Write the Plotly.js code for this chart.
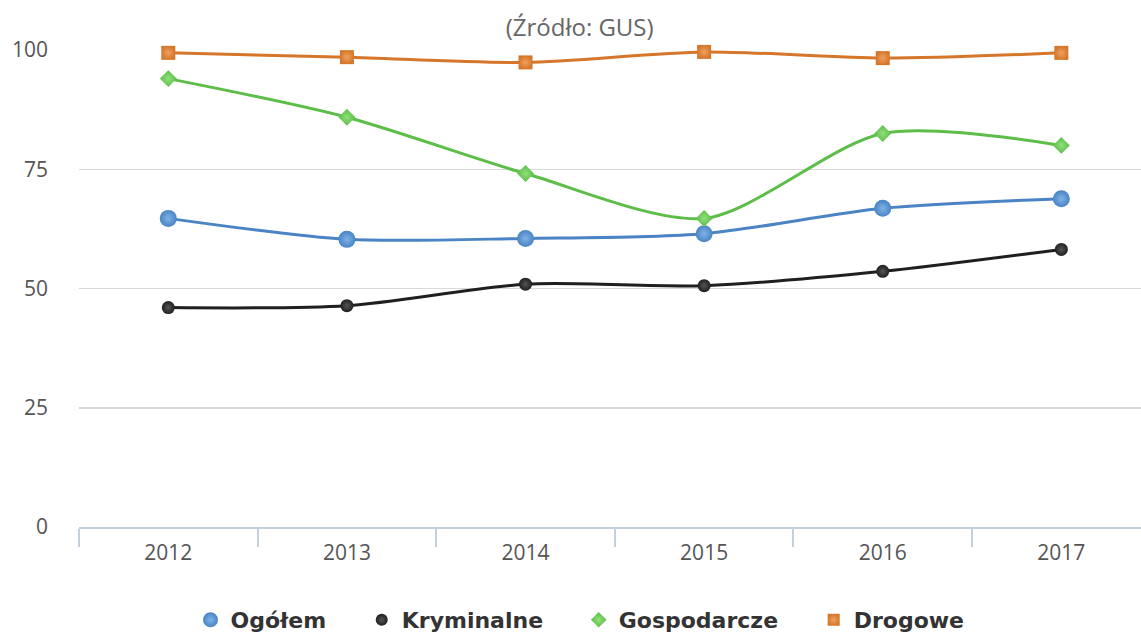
<!DOCTYPE html>
<html>
<head>
<meta charset="utf-8">
<script src="https://cdn.plot.ly/plotly-3.0.1.min.js"></script>
<style>html,body{margin:0;padding:0;background:#fff;}#chart{width:1141px;height:633px;}</style>
</head>
<body>
<div id="chart"></div>
<script>
const years = ['2012', '2013', '2014', '2015', '2016', '2017'];
const ogolem = [64.7, 60.3, 60.5, 61.5, 66.8, 68.8];
const kryminalne = [46.0, 46.4, 50.9, 50.6, 53.6, 58.2];
const gospodarcze = [94.0, 85.9, 74.1, 64.7, 82.5, 80.0];
const drogowe = [99.4, 98.5, 97.4, 99.6, 98.3, 99.4];
const seriesNames = ['Ogółem', 'Kryminalne', 'Gospodarcze', 'Drogowe'];
const yTicks = [0, 25, 50, 75, 100];

const styles = [
  {color: '#4a84c4', light: '#7fb2e6', symbol: 'circle', size: 17, lsize: 15},
  {color: '#1f1f1f', light: '#555555', symbol: 'circle', size: 13, lsize: 12},
  {color: '#5cbd48', light: '#8fe07a', symbol: 'diamond', size: 13, lsize: 12},
  {color: '#d5762a', light: '#f0a060', symbol: 'square', size: 14, lsize: 12}
];
const values = [ogolem, kryminalne, gospodarcze, drogowe];
const pad = ['\u00a0\u00a0\u00a0\u00a0', '\u00a0\u00a0\u00a0\u00a0', '\u00a0\u00a0\u00a0\u00a0', ''];

const traces = [];
values.forEach((v, i) => {
  const s = styles[i];
  traces.push({
    type: 'scatter', mode: 'lines+markers', name: seriesNames[i], x: years, y: v,
    showlegend: false,
    line: {color: s.color, width: 3, shape: 'spline', smoothing: 0.8},
    marker: {color: s.color, symbol: s.symbol, size: s.size, line: {width: 0},
             gradient: {type: 'radial', color: s.light}},
    cliponaxis: false
  });
});
values.forEach((v, i) => {
  const s = styles[i];
  traces.push({
    type: 'scatter', mode: 'markers', name: seriesNames[i] + pad[i], x: [null], y: [null],
    showlegend: true,
    marker: {color: s.color, symbol: s.symbol, size: s.lsize, line: {width: 0},
             gradient: {type: 'radial', color: s.light}}
  });
});

const layout = {
  width: 1141, height: 633,
  margin: {l: 79, r: 0, t: 50, b: 106, autoexpand: false},
  paper_bgcolor: '#fff', plot_bgcolor: '#fff',
  font: {family: 'Open Sans, DejaVu Sans, sans-serif', color: '#555'},
  title: {text: '(Źródło: GUS)', x: 0.508, xanchor: 'center', y: 0.957, yanchor: 'middle', yref: 'container',
          font: {size: 24, color: '#666', family: 'Open Sans, DejaVu Sans, sans-serif'}},
  xaxis: {
    type: 'category', range: [-0.5, 5.446], tickson: 'boundaries',
    ticks: 'outside', ticklen: 18, tickcolor: '#c4d0df', tickwidth: 2,
    showline: true, linecolor: '#c4d0df', linewidth: 2,
    showgrid: false, zeroline: false,
    ticklabelstandoff: 6,
    tickfont: {size: 21, color: '#555'}
  },
  yaxis: {
    range: [0, 100], tickvals: yTicks,
    showgrid: true, gridcolor: '#d9d9d9', gridwidth: 1.5,
    zeroline: false, showline: false, ticks: '',
    ticklabelstandoff: 30,
    tickfont: {size: 21, color: '#555'}
  },
  legend: {
    orientation: 'h', x: 0.105, xanchor: 'left', y: -0.195, yanchor: 'middle',
    font: {size: 22, color: '#333', family: 'DejaVu Sans, sans-serif', weight: 'bold'},
    itemsizing: 'trace', tracegroupgap: 0, itemwidth: 30
  },
  showlegend: true
};

Plotly.newPlot('chart', traces, layout, {displayModeBar: false, staticPlot: true});
</script>
</body>
</html>
